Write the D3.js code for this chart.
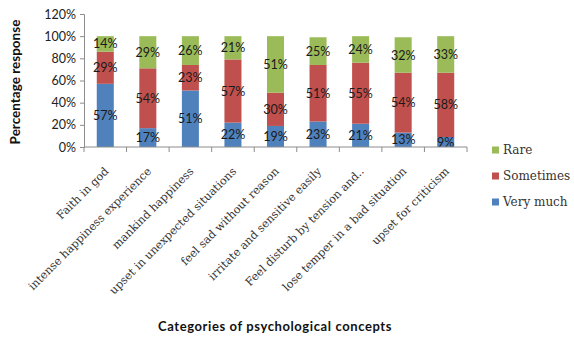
<!DOCTYPE html>
<html>
<head>
<meta charset="utf-8">
<script src="https://cdn.jsdelivr.net/npm/d3@7"></script>
<style>
  html, body { margin: 0; padding: 0; background: #fff; }
  svg { display: block; }
</style>
</head>
<body>
<svg id="chart" width="574" height="337"></svg>
<script>
// Psychological concept categories (x axis)
const categories = [
  "Faith in god",
  "intense happiness experience",
  "mankind happiness",
  "upset in unexpected situations",
  "feel sad without reason",
  "irritate and sensitive easily",
  "Feel disturb by tension and..",
  "lose temper in a bad situation",
  "upset for criticism"
];

// Response shares in percent, stacked bottom to top
const veryMuch  = [57, 17, 51, 22, 19, 23, 21, 13, 9];
const sometimes = [29, 54, 23, 57, 30, 51, 55, 54, 58];
const rare      = [14, 29, 26, 21, 51, 25, 24, 32, 33];

const seriesNames = ["Very much", "Sometimes", "Rare"];
const seriesColors = ["#4F81BD", "#C0504D", "#9BBB59"];

const yTicks = [0, 20, 40, 60, 80, 100, 120];

const rows = categories.map((c, i) => ({
  category: c,
  "Very much": veryMuch[i],
  "Sometimes": sometimes[i],
  "Rare": rare[i]
}));

const svg = d3.select("#chart");
const margin = { left: 84, right: 107, top: 14, bottom: 190 };
const W = 574, H = 337;
const x0 = margin.left, x1 = W - margin.right;
const y0 = H - margin.bottom, y1 = margin.top;

const x = d3.scaleBand().domain(categories).range([x0, x1]).paddingInner(0.6).paddingOuter(0.3);
const y = d3.scaleLinear().domain([0, 120]).range([y0, y1]);

const stack = d3.stack().keys(seriesNames);
const layers = stack(rows);

const labelFont = "Lato, 'Liberation Sans', sans-serif";
const serifFont = "'DejaVu Serif', 'Liberation Serif', serif";

// Stacked bars
const g = svg.append("g");
layers.forEach((layer, li) => {
  g.selectAll(null)
    .data(layer)
    .enter()
    .append("rect")
    .attr("x", d => x(d.data.category))
    .attr("width", x.bandwidth())
    .attr("y", d => y(d[1]))
    .attr("height", d => y(d[0]) - y(d[1]))
    .attr("fill", seriesColors[li]);
});

// Value labels centered in each segment
layers.forEach((layer) => {
  const key = layer.key;
  g.selectAll(null)
    .data(layer)
    .enter()
    .append("text")
    .attr("x", d => x(d.data.category) + x.bandwidth() / 2)
    .attr("y", d => (y(d[0]) + y(d[1])) / 2)
    .attr("dy", "0.36em")
    .attr("text-anchor", "middle")
    .attr("font-family", labelFont)
    .attr("font-size", 12.5)
    .attr("fill", "#1a1a1a")
    .text(d => d.data[key] + "%");
});

// Y axis
const yAxis = d3.axisLeft(y).tickValues(yTicks).tickFormat(d => d + "%").tickSize(4).tickPadding(4);
const ya = svg.append("g").attr("transform", `translate(${x0},0)`).call(yAxis);
ya.select(".domain").attr("stroke", "#8c8c8c");
ya.selectAll(".tick line").attr("stroke", "#8c8c8c");
ya.selectAll(".tick text").attr("font-family", labelFont).attr("font-size", 12.5).attr("fill", "#222");

// X axis line with boundary ticks between categories
svg.append("line")
  .attr("x1", x0).attr("x2", x1).attr("y1", y0).attr("y2", y0)
  .attr("stroke", "#8c8c8c");
d3.range(categories.length + 1).forEach(i => {
  const xp = x0 + i * (x1 - x0) / categories.length;
  svg.append("line")
    .attr("x1", xp).attr("x2", xp).attr("y1", y0).attr("y2", y0 + 5)
    .attr("stroke", "#8c8c8c");
});

// Rotated category labels
svg.append("g").selectAll("text")
  .data(categories)
  .enter()
  .append("text")
  .attr("transform", d => `translate(${x(d) + x.bandwidth() / 2 + 4},${y0 + 25}) rotate(-45)`)
  .attr("text-anchor", "end")
  .attr("font-family", serifFont)
  .attr("font-size", 11.2)
  .attr("fill", "#333")
  .text(d => d);

// Axis titles
svg.append("text")
  .attr("transform", `translate(20,82) rotate(-90)`)
  .attr("text-anchor", "middle")
  .attr("font-family", labelFont)
  .attr("font-weight", "bold")
  .attr("font-size", 13.5)
  .attr("fill", "#111")
  .text("Percentage response");

svg.append("text")
  .attr("x", 275)
  .attr("y", 331)
  .attr("text-anchor", "middle")
  .attr("font-family", labelFont)
  .attr("font-weight", "bold")
  .attr("font-size", 13)
  .attr("letter-spacing", 0.6)
  .attr("fill", "#111")
  .text("Categories of psychological  concepts");

// Legend (top entry is the top of the stack)
const legendItems = seriesNames.slice().reverse();
const legendColors = seriesColors.slice().reverse();
const lg = svg.append("g").attr("transform", "translate(492,150)");
legendItems.forEach((name, i) => {
  const row = lg.append("g").attr("transform", `translate(0,${i * 26})`);
  row.append("rect").attr("x", 0).attr("y", -3.5).attr("width", 7).attr("height", 7).attr("fill", legendColors[i]);
  row.append("text")
    .attr("x", 11).attr("y", 0).attr("dy", "0.35em")
    .attr("font-family", serifFont)
    .attr("font-size", 12)
    .attr("fill", "#333")
    .text(name);
});
</script>
</body>
</html>
